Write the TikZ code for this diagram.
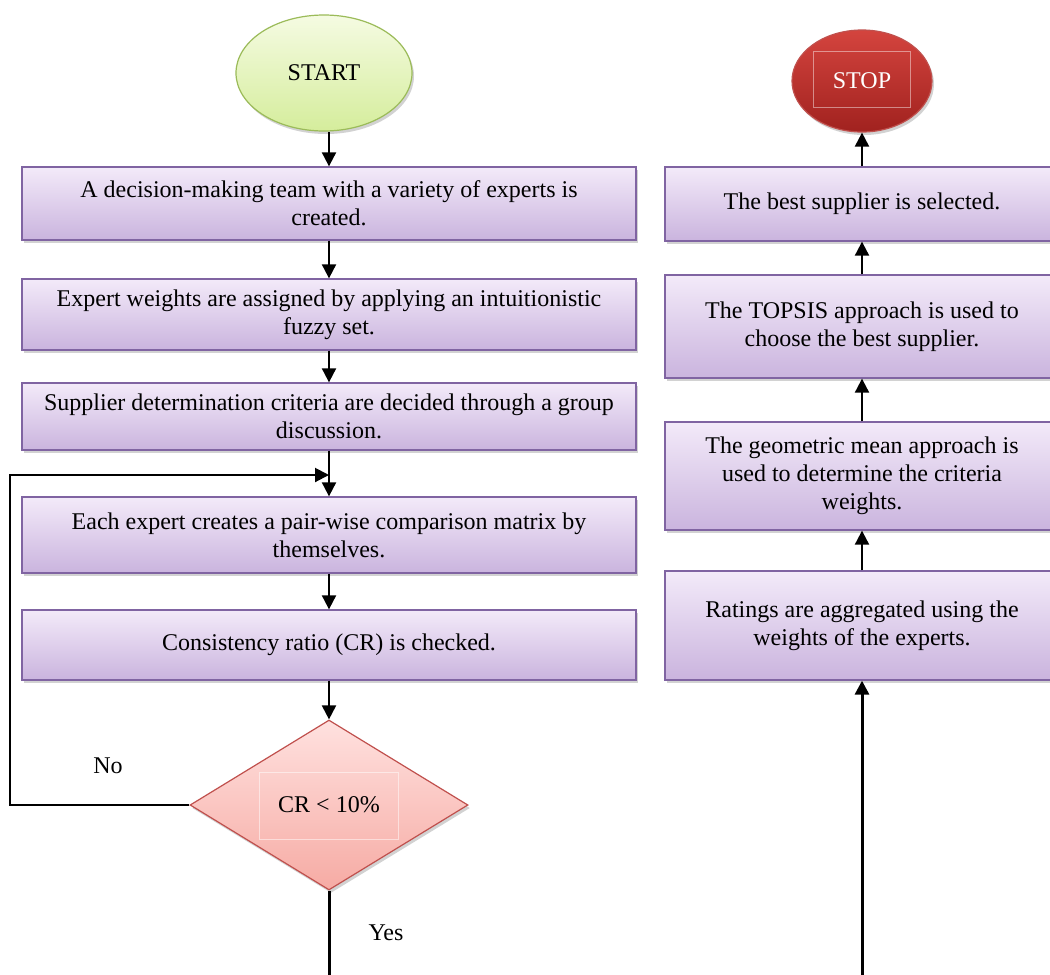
\documentclass[tikz,border=0pt]{standalone}
\usepackage{fontspec}
\setmainfont{Liberation Serif}
\usetikzlibrary{shapes.geometric,arrows.meta,shadows}

\definecolor{boxtop}{HTML}{F3EAF9}
\definecolor{boxbot}{HTML}{CAB4DE}
\definecolor{boxedge}{HTML}{8064A2}
\definecolor{starttop}{HTML}{F5FBE2}
\definecolor{startbot}{HTML}{D5ED9C}
\definecolor{startedge}{HTML}{9BBB59}
\definecolor{stoptop}{HTML}{D4443E}
\definecolor{stopbot}{HTML}{A1221F}
\definecolor{stopedge}{HTML}{C0504D}
\definecolor{diatop}{HTML}{FFE1DF}
\definecolor{diabot}{HTML}{F6ABA4}
\definecolor{diaedge}{HTML}{C0504D}

\tikzset{
  txt/.style={font=\fontsize{24}{28}\selectfont},
  softshadow/.style={drop shadow={opacity=0.35,shadow xshift=2pt,shadow yshift=-3pt}},
  procbox/.style={txt, draw=boxedge, line width=1.3pt, top color=boxtop,
    bottom color=boxbot, softshadow, align=center, inner sep=0pt},
  startnode/.style={txt, ellipse, draw=startedge, line width=1.2pt,
    top color=starttop, bottom color=startbot, softshadow, inner sep=0pt},
  stopnode/.style={txt, ellipse, draw=stopedge, line width=1.2pt,
    top color=stoptop, bottom color=stopbot, text=white, softshadow, inner sep=0pt},
  decision/.style={txt, diamond, draw=diaedge, line width=1.2pt,
    top color=diatop, bottom color=diabot, softshadow, inner sep=0pt},
  flow/.style={-{Triangle[length=14pt,width=14pt]}, line width=2pt},
  heavy/.style={line width=3pt},
  lbl/.style={txt}
}

\begin{document}
\begin{tikzpicture}[x=1pt,y=-1pt]
\clip (0,0) rectangle (1050,975);
\fill[white] (0,0) rectangle (1050,975);

% terminals
\node[startnode, minimum width=176pt, minimum height=116pt] (start) at (324,73) {START};
\node[stopnode, minimum width=140pt, minimum height=102pt] (stop) at (862,81) {STOP};
\draw[white, opacity=0.45, line width=0.6pt] (813,51) rectangle (910,107);

% left column
\node[procbox, minimum width=614pt, minimum height=73pt] (b1) at (329,203.5)
  {A decision-making team with a variety of experts is\\created.};
\node[procbox, minimum width=614pt, minimum height=71pt] (b2) at (329,314.5)
  {Expert weights are assigned by applying an intuitionistic\\fuzzy set.};
\node[procbox, minimum width=614pt, minimum height=67pt] (b3) at (329,416.5)
  {Supplier determination criteria are decided through a group\\discussion.};
\node[procbox, minimum width=614pt, minimum height=76pt] (b4) at (329,535)
  {Each expert creates a pair-wise comparison matrix by\\themselves.};
\node[procbox, minimum width=614pt, minimum height=70pt] (b5) at (329,645)
  {Consistency ratio (CR) is checked.};
\node[decision, minimum width=278pt, minimum height=170pt, aspect=1.635] (d) at (329,805) {CR < 10\%};
\draw[white, opacity=0.5, line width=0.5pt] (259,772) rectangle (398,839);

% right column
\node[procbox, minimum width=394pt, minimum height=74pt] (r1) at (862,204)
  {The best supplier is selected.};
\node[procbox, minimum width=394pt, minimum height=103pt] (r2) at (862,326.5)
  {The TOPSIS approach is used to\\choose the best supplier.};
\node[procbox, minimum width=394pt, minimum height=108pt] (r3) at (862,476)
  {The geometric mean approach is\\used to determine the criteria\\weights.};
\node[procbox, minimum width=394pt, minimum height=109pt] (r4) at (862,625.5)
  {Ratings are aggregated using the\\weights of the experts.};

% labels
\node[lbl] (nolbl) at (108,766) {No};
\node[lbl] (yeslbl) at (386,933) {Yes};

% connectors, left column
\draw[flow] (start.south -| b1.north) -- (b1.north);
\draw[flow] (b1.south) -- (b2.north);
\draw[flow] (b2.south) -- (b3.north);
\draw[flow] (b3.south) -- (b4.north);
\draw[flow] (b4.south) -- (b5.north);
\draw[flow] (b5.south) -- (d.north);
\coordinate (loopcorner) at (10,805);
\coordinate (loopin) at (329,475);
\draw[flow] (d.west) -- (loopcorner) |- (loopin);
\coordinate (yesend) at (329,980);
\draw[heavy] (d.south) -- (yesend);

% connectors, right column
\coordinate (rin) at (862,980);
\draw[flow, heavy] (rin) -- (r4.south);
\draw[flow] (r4.north) -- (r3.south);
\draw[flow] (r3.north) -- (r2.south);
\draw[flow] (r2.north) -- (r1.south);
\draw[flow] (r1.north) -- (stop.south);
\end{tikzpicture}
\end{document}
